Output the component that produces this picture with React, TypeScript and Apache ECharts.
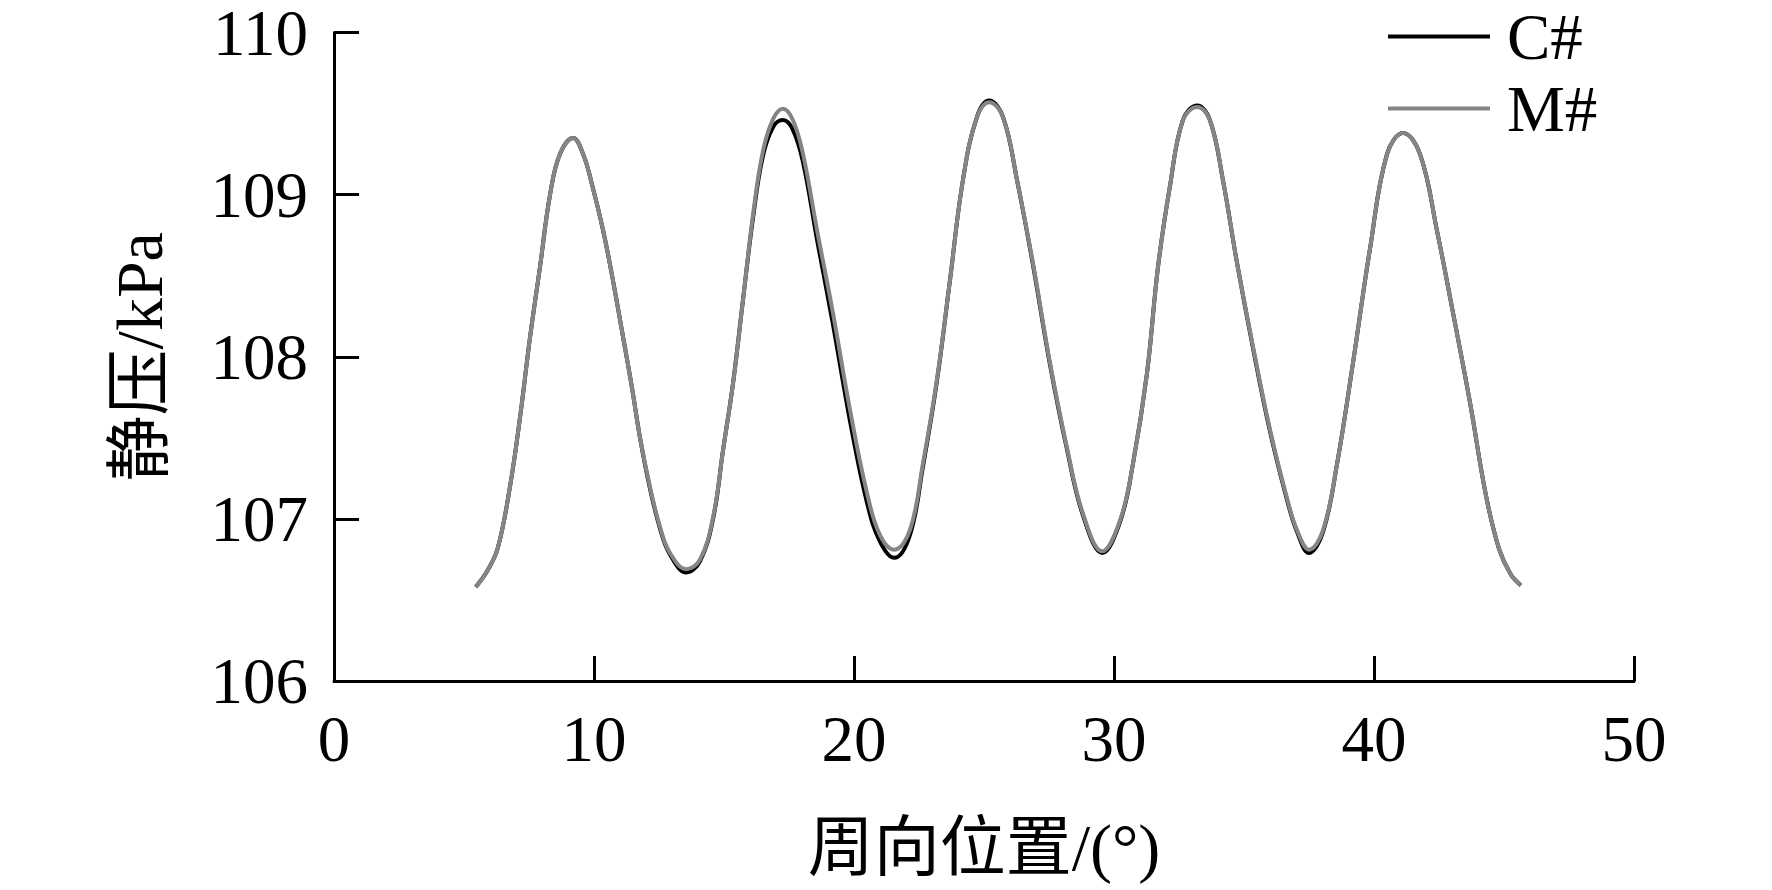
import React, { useEffect, useRef } from "react";
import * as echarts from "echarts";

const xTicks = [0, 10, 20, 30, 40, 50];
const yTicks = [106, 107, 108, 109, 110];
const seriesNames = ["C#", "M#"];

const positions = [
  5.45, 5.9, 6.3, 6.77, 7.15, 7.54, 7.92, 8.31, 8.69, 9.2, 9.58, 9.96, 10.35, 10.73, 11.12, 11.46,
  11.77, 12.15, 12.54, 12.92, 13.55, 14.08, 14.58, 14.96, 15.35, 15.73, 16.12, 16.5, 16.9, 17.27,
  17.65, 18.04, 18.58, 19.19, 19.85, 20.5, 21.0, 21.55, 22.15, 22.65, 23.19, 23.69, 24.19, 24.73,
  25.2, 25.73, 26.27, 26.88, 27.54, 28.19, 28.81, 29.55, 30.23, 30.73, 31.27, 31.69, 32.15, 32.65,
  33.2, 33.69, 34.19, 34.73, 35.35, 36.0, 36.65, 37.04, 37.5, 38.04, 38.58, 39.19, 39.85, 40.5,
  41.12, 41.77, 42.42, 43.04, 43.69, 44.3, 44.8, 45.25, 45.65,
];
const pressM = [
  106.58, 106.68, 106.82, 107.2, 107.62, 108.12, 108.55, 109.0, 109.25, 109.35, 109.25, 109.04,
  108.78, 108.47, 108.12, 107.81, 107.5, 107.2, 106.95, 106.79, 106.69, 106.75, 107.01, 107.42,
  107.84, 108.35, 108.88, 109.27, 109.47, 109.53, 109.46, 109.25, 108.78, 108.27, 107.67, 107.16,
  106.9, 106.81, 106.93, 107.34, 107.86, 108.47, 109.09, 109.48, 109.57, 109.48, 109.09, 108.58,
  107.96, 107.44, 107.03, 106.8, 106.99, 107.34, 107.9, 108.55, 109.05, 109.46, 109.54, 109.46,
  109.09, 108.58, 108.06, 107.55, 107.13, 106.93, 106.81, 106.93, 107.34, 107.96, 108.67, 109.25,
  109.38, 109.25, 108.78, 108.27, 107.72, 107.15, 106.82, 106.66, 106.59,
];
const pressC = [
  106.58, 106.68, 106.82, 107.2, 107.62, 108.12, 108.55, 109.0, 109.25, 109.35, 109.25, 109.04,
  108.78, 108.47, 108.12, 107.81, 107.5, 107.19, 106.94, 106.78, 106.67, 106.74, 107.0, 107.42,
  107.84, 108.35, 108.86, 109.24, 109.42, 109.46, 109.4, 109.2, 108.72, 108.2, 107.6, 107.1,
  106.86, 106.76, 106.9, 107.32, 107.85, 108.47, 109.09, 109.48, 109.58, 109.48, 109.09, 108.57,
  107.95, 107.43, 107.02, 106.79, 106.98, 107.34, 107.9, 108.55, 109.05, 109.46, 109.55, 109.46,
  109.09, 108.58, 108.05, 107.54, 107.12, 106.92, 106.79, 106.92, 107.34, 107.96, 108.67, 109.25,
  109.38, 109.25, 108.78, 108.27, 107.72, 107.15, 106.82, 106.66, 106.59,
];

const FONT = "'Liberation Serif', 'Times New Roman', 'Noto Sans CJK SC', serif";

export default function App() {
  const ref = useRef<HTMLDivElement>(null);
  useEffect(() => {
    document.body.style.margin = "0";
    const chart = echarts.init(ref.current!, null, { renderer: "svg" });
    const dataC = positions.map((x, i) => [x, pressC[i]]);
    const dataM = positions.map((x, i) => [x, pressM[i]]);
    chart.setOption({
      animation: false,
      backgroundColor: "#ffffff",
      grid: { left: 334, right: 138, top: 32, bottom: 209, containLabel: false },
      legend: {
        orient: "vertical",
        left: 1383,
        top: -1,
        itemWidth: 102,
        itemHeight: 4,
        itemGap: 7,
        icon: "rect",
        data: seriesNames,
        textStyle: {
          fontFamily: FONT,
          fontSize: 65,
          color: "#000",
          lineHeight: 64,
          padding: [0, 0, 0, 12],
        },
      },
      xAxis: {
        type: "value",
        min: xTicks[0],
        max: xTicks[xTicks.length - 1],
        interval: 10,
        name: "周向位置/(°)",
        nameLocation: "middle",
        nameGap: 133,
        nameTextStyle: { fontFamily: FONT, fontSize: 66, color: "#000" },
        axisLine: { show: true, lineStyle: { color: "#000", width: 3 } },
        axisTick: { show: true, inside: true, length: 25, lineStyle: { color: "#000", width: 3 } },
        axisLabel: { fontFamily: FONT, fontSize: 65, color: "#000", margin: 25 },
        splitLine: { show: false },
      },
      yAxis: {
        type: "value",
        min: yTicks[0],
        max: yTicks[yTicks.length - 1],
        interval: 1,
        name: "静压/kPa",
        nameLocation: "middle",
        nameGap: 162,
        nameTextStyle: { fontFamily: FONT, fontSize: 66, color: "#000" },
        axisLine: { show: true, lineStyle: { color: "#000", width: 3 } },
        axisTick: { show: true, inside: true, length: 25, lineStyle: { color: "#000", width: 3 } },
        axisLabel: { fontFamily: FONT, fontSize: 65, color: "#000", margin: 26, lineHeight: 50 },
        splitLine: { show: false },
      },
      series: [
        {
          name: seriesNames[0],
          type: "line",
          data: dataC,
          smooth: 0.4,
          showSymbol: false,
          lineStyle: { color: "#000000", width: 4 },
          itemStyle: { color: "#000000" },
        },
        {
          name: seriesNames[1],
          type: "line",
          data: dataM,
          smooth: 0.4,
          showSymbol: false,
          lineStyle: { color: "#858585", width: 4 },
          itemStyle: { color: "#858585" },
        },
      ],
    });
    return () => chart.dispose();
  }, []);
  return (
    <div
      ref={ref}
      style={{ position: "fixed", left: 0, top: 0, width: 1772, height: 890 }}
    />
  );
}
